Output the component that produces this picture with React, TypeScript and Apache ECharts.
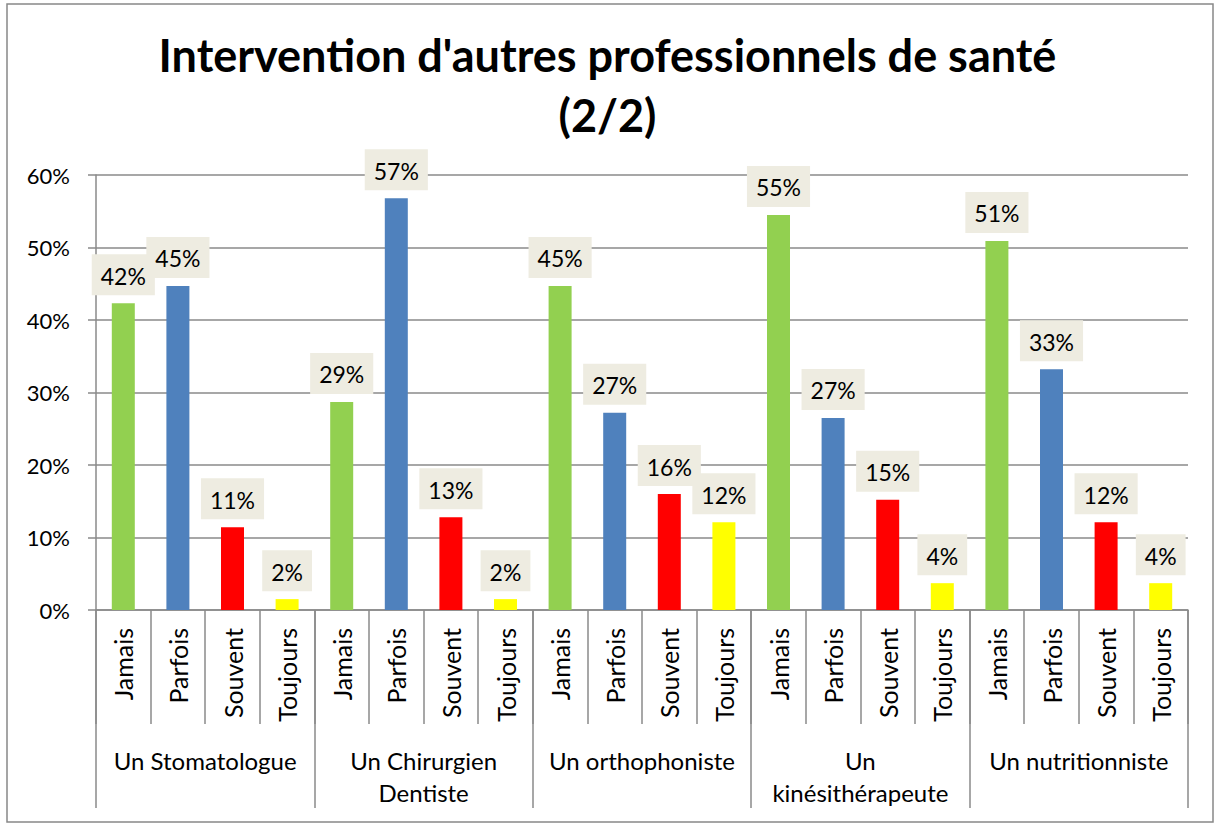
import React, { useEffect, useRef } from "react";
import * as echarts from "echarts";

const titleText = "Intervention d'autres professionnels de santé\n(2/2)";
const groups = [
  "Un Stomatologue",
  "Un Chirurgien\nDentiste",
  "Un orthophoniste",
  "Un\nkinésithérapeute",
  "Un nutritionniste",
];
const responses = ["Jamais", "Parfois", "Souvent", "Toujours"];
const responseColors = ["#92D050", "#4F81BD", "#FF0000", "#FFFF00"];

const stomatologue = [42.3, 44.7, 11.4, 1.5];
const chirurgienDentiste = [28.7, 56.8, 12.8, 1.5];
const orthophoniste = [44.7, 27.2, 16.0, 12.1];
const kinesitherapeute = [54.5, 26.5, 15.2, 3.7];
const nutritionniste = [50.9, 33.2, 12.1, 3.7];

const groupValues = [stomatologue, chirurgienDentiste, orthophoniste, kinesitherapeute, nutritionniste];
const yTicks = [0, 10, 20, 30, 40, 50, 60];

const FONT = "Lato";

export default function App() {
  const ref = useRef<HTMLDivElement>(null);

  useEffect(() => {
    if (!ref.current) return;
    const chart = echarts.init(ref.current, null, { renderer: "svg" });

    const categories: string[] = [];
    const data: any[] = [];
    groupValues.forEach((vals) => {
      vals.forEach((v, i) => {
        categories.push(responses[i]);
        data.push({ value: v, itemStyle: { color: responseColors[i] } });
      });
    });

    const gray = "#8a8a8a";

    chart.setOption({
      animation: false,
      backgroundColor: "#ffffff",
      textStyle: { fontFamily: FONT },
      title: {
        text: titleText,
        left: "center",
        top: 25,
        padding: 0,
        textStyle: {
          fontFamily: FONT,
          fontWeight: "bold",
          fontSize: 45,
          lineHeight: 60,
          color: "#000",
        },
      },
      graphic: [
        {
          type: "rect",
          shape: { x: 7, y: 4, width: 1206, height: 818 },
          style: { fill: "none", stroke: "#888", lineWidth: 1.5 },
          silent: true,
        },
      ],
      grid: { left: 96, right: 27, top: 175, bottom: 215, containLabel: false },
      yAxis: {
        type: "value",
        min: yTicks[0],
        max: yTicks[yTicks.length - 1],
        interval: 10,
        axisLine: { show: true, lineStyle: { color: gray, width: 1.5 } },
        axisTick: { show: true, length: 8, lineStyle: { color: gray, width: 1.5 } },
        splitLine: { show: true, lineStyle: { color: gray, width: 1.5 } },
        axisLabel: {
          formatter: "{value}%",
          fontSize: 22,
          color: "#000",
          margin: 26,
          fontFamily: FONT,
        },
      },
      xAxis: [
        {
          type: "category",
          data: categories,
          position: "bottom",
          axisLine: { show: true, lineStyle: { color: gray, width: 1.5 } },
          axisTick: { show: true, interval: 0, length: 114, lineStyle: { color: gray, width: 1.5 } },
          axisLabel: {
            interval: 0,
            rotate: 90,
            fontSize: 25,
            margin: 18,
            color: "#000",
            fontFamily: FONT,
          },
        },
        {
          type: "category",
          data: groups,
          position: "bottom",
          axisLine: { show: false },
          axisTick: { show: true, interval: 0, length: 198, lineStyle: { color: gray, width: 1.5 } },
          axisLabel: {
            interval: 0,
            fontSize: 24,
            lineHeight: 32,
            margin: 134,
            color: "#000",
            fontFamily: FONT,
          },
        },
      ],
      series: [
        {
          type: "bar",
          xAxisIndex: 0,
          barWidth: 23,
          data,
          label: {
            show: true,
            position: "top",
            distance: 8,
            formatter: (p: any) => Math.round(p.value) + "%",
            fontSize: 23,
            lineHeight: 27,
            color: "#000",
            fontFamily: FONT,
            backgroundColor: "#EEECE1",
            padding: [8, 9, 6, 9],
          },
        },
      ],
    });

    return () => chart.dispose();
  }, []);

  return (
    <div
      ref={ref}
      style={{ position: "fixed", left: 0, top: 0, width: 1215, height: 825 }}
    />
  );
}
